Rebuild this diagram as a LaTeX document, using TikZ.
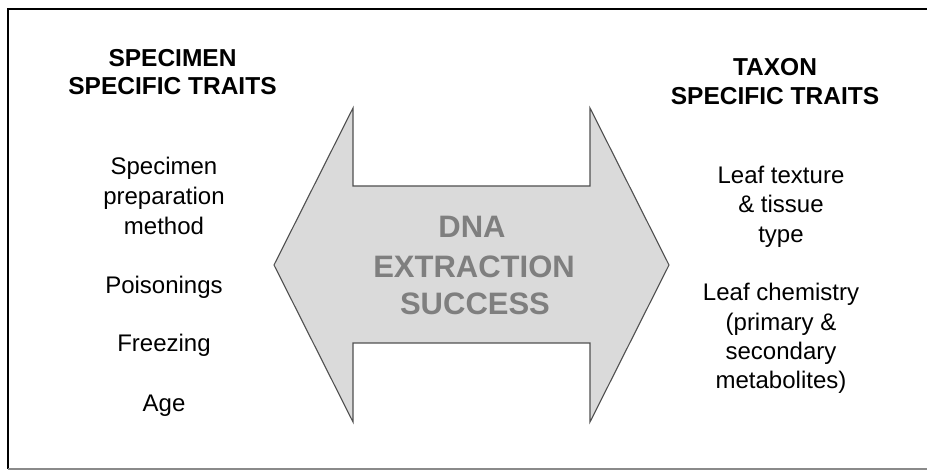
\documentclass[tikz,border=0pt]{standalone}
\usepackage{fontspec}
\setmainfont{Liberation Sans}
\definecolor{arrowfill}{HTML}{DADADA}
\definecolor{arrowline}{HTML}{505050}
\definecolor{centertext}{HTML}{7F7F7F}
\definecolor{bottomline}{HTML}{8A8A8A}
\tikzset{
  head/.style={anchor=base, inner sep=0pt, font=\fontsize{24.5}{29}\selectfont\bfseries},
  body/.style={anchor=base, inner sep=0pt, font=\fontsize{24}{29.5}\selectfont},
  big/.style={anchor=base, inner sep=0pt, text=centertext, font=\fontsize{31}{38}\selectfont\bfseries},
  framebox/.style={draw=black, line width=2pt},
  bigarrow/.style={fill=arrowfill, draw=arrowline, line width=1.1pt, line join=miter}
}
\begin{document}
\begin{tikzpicture}[x=1pt, y=-1pt]
\useasboundingbox (0,0) rectangle (927,470);
\clip (0,0) rectangle (927,470);
\fill[white] (0,0) rectangle (927,470);
% frame
\draw[framebox] (940,9) -- (8,9) -- (8,468.5);
\draw[bottomline, line width=1.5pt] (8,468.8) -- (940,468.8);
% double arrow
\draw[bigarrow] (274,265) -- (353,108) -- (353,186) -- (590,186) -- (590,108)
  -- (669,265) -- (590,422) -- (590,343) -- (353,343) -- (353,422) -- cycle;
\node[big] (dna) at (472,238) {DNA};
\node[big] (extr) at (474,277.5) {EXTRACTION};
\node[big] (succ) at (475,315) {SUCCESS};
% left column
\node[head] (lh1) at (172.5,66.5) {SPECIMEN};
\node[head] (lh2) at (172.5,95) {SPECIFIC TRAITS};
\node[body] (l1) at (164,175) {Specimen};
\node[body] (l2) at (164,205) {preparation};
\node[body] (l3) at (164,234.5) {method};
\node[body] (l4) at (164,293.5) {Poisonings};
\node[body] (l5) at (164,352) {Freezing};
\node[body] (l6) at (164,411) {Age};
% right column
\node[head] (rh1) at (775,76) {TAXON};
\node[head] (rh2) at (775,105) {SPECIFIC TRAITS};
\node[body] (r1) at (781,183.5) {Leaf texture};
\node[body] (r2) at (781,213) {\& tissue};
\node[body] (r3) at (781,242.5) {type};
\node[body] (r4) at (781,301) {Leaf chemistry};
\node[body] (r5) at (781,330.5) {(primary \&};
\node[body] (r6) at (781,360) {secondary};
\node[body] (r7) at (781,389) {metabolites)};
\end{tikzpicture}
\end{document}
